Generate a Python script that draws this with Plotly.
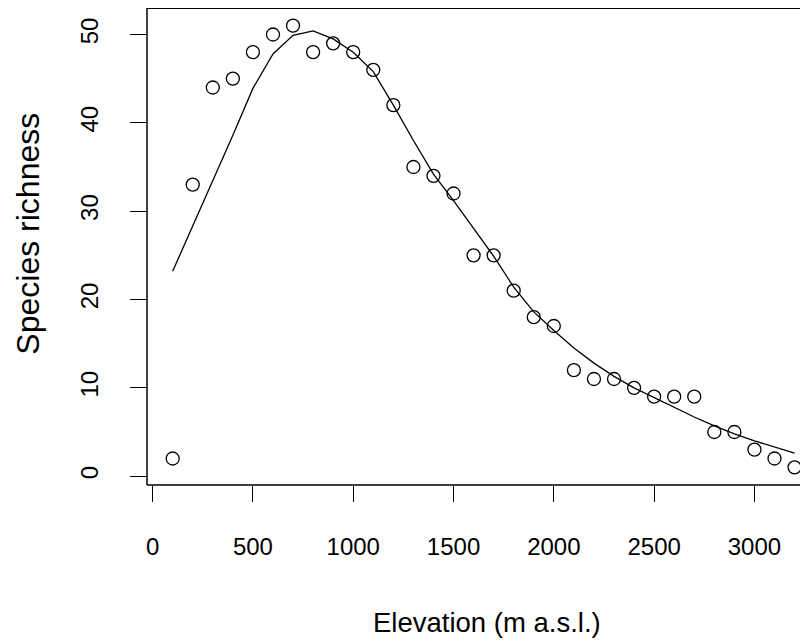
import plotly.graph_objects as go

# elevation bands (m a.s.l.)
elevation = [100, 200, 300, 400, 500, 600, 700, 800, 900, 1000, 1100, 1200, 1300, 1400, 1500, 1600,
             1700, 1800, 1900, 2000, 2100, 2200, 2300, 2400, 2500, 2600, 2700, 2800, 2900, 3000, 3100, 3200]

# observed richness
richness = [2, 33, 44, 45, 48, 50, 51, 48, 49, 48, 46, 42, 35, 34, 32, 25,
            25, 21, 18, 17, 12, 11, 11, 10, 9, 9, 9, 5, 5, 3, 2, 1]

# fitted curve
fitted = [23.2, 28.3, 33.3, 38.6, 43.9, 47.8, 49.9, 50.4, 49.5, 48.0, 45.8, 42.0, 38.0, 34.2, 31.2, 28.0,
          24.9, 21.4, 18.6, 16.5, 14.5, 12.8, 11.3, 10.0, 8.9, 7.8, 6.7, 5.7, 4.8, 4.0, 3.3, 2.6]

x_ticks = [0, 500, 1000, 1500, 2000, 2500, 3000]
y_ticks = [0, 10, 20, 30, 40, 50]

FONT = "Liberation Sans, Arial, sans-serif"

# page has an 8px body margin, so the figure is laid out in page px - 8
W, H = 800, 636
L, T, B = 139.3, 0, 159
pw, ph = W - L, H - T - B

fig = go.Figure()
fig.add_trace(go.Scatter(x=elevation, y=richness, mode="markers",
                         marker=dict(symbol="circle-open", size=13, color="black",
                                     line=dict(width=1.3, color="black"))))
fig.add_trace(go.Scatter(x=elevation, y=fitted, mode="lines",
                         line=dict(color="black", width=1.3)))

fig.update_layout(
    width=W, height=H,
    margin=dict(l=L, r=0, t=T, b=B, pad=0),
    paper_bgcolor="white", plot_bgcolor="white",
    showlegend=False,
    font=dict(family=FONT, color="black"),
    xaxis=dict(range=[-28, 3267], tickvals=x_ticks, ticks="outside", ticklen=16, tickwidth=1.3,
               tickcolor="black", showgrid=False, zeroline=False, showline=False,
               tickfont=dict(size=24), ticklabelstandoff=24),
    yaxis=dict(range=[-1, 53], tickvals=y_ticks, ticks="outside", ticklen=16, tickwidth=1.3,
               tickcolor="black", showgrid=False, zeroline=False, showline=False,
               tickangle=-90, tickfont=dict(size=24), ticklabelstandoff=22),
    shapes=[
        dict(type="line", xref="paper", yref="paper", x0=0, x1=0, y0=0, y1=1,
             line=dict(color="black", width=1.5)),
        dict(type="line", xref="paper", yref="paper", x0=0, x1=1, y0=0, y1=0,
             line=dict(color="black", width=1.5)),
        dict(type="line", xref="paper", yref="paper", x0=0, x1=1, y0=1, y1=1,
             line=dict(color="black", width=2)),
    ],
    annotations=[
        dict(text="Elevation (m a.s.l.)", xref="paper", yref="paper",
             x=(479 - L) / pw, y=-(614 - (T + ph)) / ph,
             xanchor="center", yanchor="middle", showarrow=False, font=dict(size=27.5)),
        dict(text="Species richness", xref="paper", yref="paper",
             x=-(L - 20) / pw, y=(T + ph - 226) / ph,
             xanchor="center", yanchor="middle", textangle=-90, showarrow=False, font=dict(size=32)),
    ],
)

fig.write_html("out.html")
